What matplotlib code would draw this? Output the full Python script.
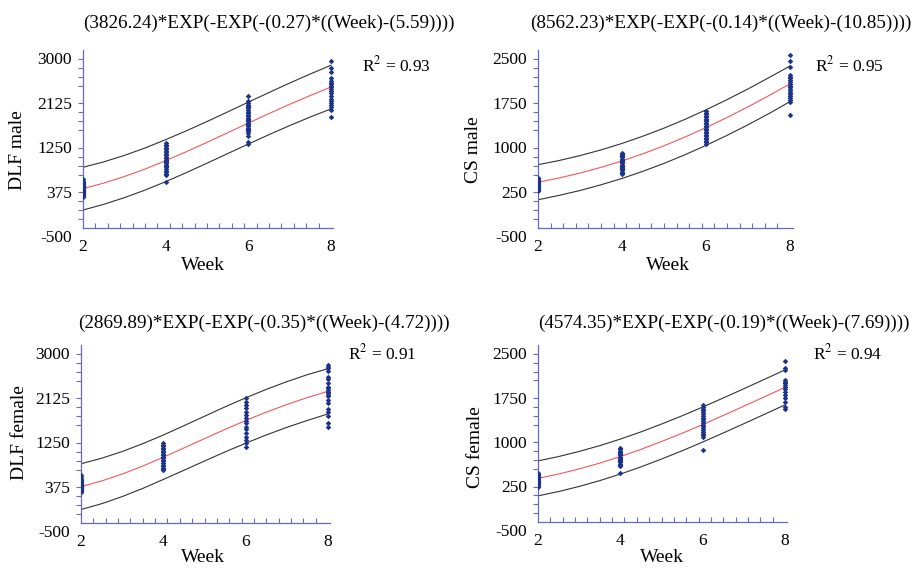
import numpy as np
import matplotlib as mpl
mpl.use('Agg')
import matplotlib.pyplot as plt
from matplotlib.transforms import ScaledTranslation

plt.rcParams['font.family'] = ['Liberation Serif', 'DejaVu Serif']
plt.rcParams['mathtext.fontset'] = 'stix'
plt.rcParams['axes.unicode_minus'] = False

# observed values, one list per week (2, 4, 6, 8)
weeks = [2, 4, 6, 8]

dlf_male = [
    [460, 430, 410, 390, 370, 350, 330, 320, 300, 290, 280, 270, 260, 250, 240, 230, 215, 200, 185, 170, 150, 130, 115],
    [1170, 1140, 1110, 1080, 1050, 1020, 990, 960, 930, 900, 870, 840, 810, 790, 770, 740, 710, 690, 660, 630, 600, 570, 540, 400],
    [2093, 1990, 1950, 1920, 1895, 1870, 1850, 1820, 1790, 1760, 1730, 1700, 1670, 1650, 1620, 1600, 1570, 1550, 1520, 1500, 1470, 1450, 1420, 1400, 1360, 1300, 1190, 1150],
    [2785, 2640, 2570, 2443, 2390, 2360, 2330, 2300, 2270, 2240, 2200, 2150, 2090, 2040, 1990, 1950, 1920, 1870, 1830, 1685],
]
cs_male = [
    [350, 335, 320, 305, 290, 280, 270, 260, 250, 240, 230, 220, 210, 200, 190, 175, 160, 145, 130],
    [770, 750, 730, 710, 690, 670, 650, 630, 610, 590, 570, 550, 530, 510, 490, 470, 450, 430, 410],
    [1470, 1445, 1420, 1395, 1370, 1345, 1320, 1295, 1270, 1245, 1220, 1195, 1170, 1145, 1120, 1095, 1070, 1045, 1020, 995, 970, 945, 920],
    [2416, 2315, 2219, 2080, 2050, 2020, 1990, 1960, 1930, 1900, 1870, 1840, 1810, 1780, 1750, 1720, 1690, 1650, 1620, 1400],
]
dlf_female = [
    [444, 400, 370, 340, 320, 300, 280, 265, 250, 235, 220, 205, 190, 175, 160, 145, 130, 115, 104],
    [1067, 1040, 1010, 980, 950, 920, 890, 860, 830, 800, 770, 740, 710, 680, 650, 620, 590, 560, 543],
    [1952, 1886, 1820, 1755, 1689, 1624, 1558, 1506, 1460, 1395, 1342, 1277, 1198, 1132, 1067, 1001],
    [2607, 2570, 2541, 2480, 2364, 2330, 2250, 2181, 2150, 2115, 2080, 2050, 2020, 1997, 1919, 1853, 1750, 1689, 1604, 1460, 1395],
]
cs_female = [
    [336, 320, 305, 290, 275, 260, 245, 230, 215, 200, 185, 170, 155, 140, 125, 110, 99],
    [749, 730, 710, 690, 670, 650, 630, 610, 590, 570, 550, 530, 510, 490, 470, 449, 336],
    [1483, 1450, 1420, 1390, 1360, 1330, 1300, 1270, 1240, 1210, 1180, 1150, 1120, 1090, 1060, 1030, 1000, 970, 946, 720],
    [2229, 2110, 2080, 1910, 1880, 1850, 1820, 1790, 1750, 1700, 1650, 1600, 1540, 1455, 1410],
]

# fitted curve and prediction bands, read every half week
curve_weeks = [2, 2.5, 3, 3.5, 4, 4.5, 5, 5.5, 6, 6.5, 7, 7.5, 8]
dlf_male_fit = [274, 382, 512, 659, 824, 1000, 1184, 1373, 1563, 1750, 1932, 2106, 2271]
dlf_male_upper = [694, 800, 927, 1073, 1237, 1411, 1594, 1783, 1975, 2164, 2350, 2529, 2700]
dlf_male_lower = [-146, -36, 97, 245, 411, 589, 774, 963, 1151, 1336, 1514, 1683, 1842]
cs_male_fit = [271, 343, 426, 522, 630, 752, 886, 1033, 1192, 1362, 1542, 1732, 1930]
cs_male_upper = [566, 637, 720, 816, 925, 1048, 1183, 1331, 1492, 1663, 1844, 2035, 2230]
cs_male_lower = [-24, 49, 132, 228, 335, 456, 589, 735, 892, 1061, 1240, 1429, 1630]
dlf_female_fit = [215, 326, 462, 620, 793, 975, 1159, 1341, 1515, 1679, 1830, 1967, 2090]
dlf_female_upper = [665, 773, 905, 1060, 1230, 1413, 1599, 1784, 1961, 2127, 2279, 2417, 2535]
dlf_female_lower = [-235, -121, 19, 180, 356, 537, 719, 898, 1069, 1231, 1381, 1517, 1645]
cs_female_fit = [240, 313, 400, 498, 609, 731, 864, 1004, 1152, 1306, 1463, 1622, 1782]
cs_female_upper = [536, 609, 696, 794, 905, 1027, 1160, 1300, 1448, 1602, 1759, 1918, 2078]
cs_female_lower = [-57, 16, 103, 201, 312, 434, 567, 707, 855, 1009, 1166, 1325, 1485]

titles = ['(3826.24)*EXP(-EXP(-(0.27)*((Week)-(5.59))))',
          '(8562.23)*EXP(-EXP(-(0.14)*((Week)-(10.85))))',
          '(2869.89)*EXP(-EXP(-(0.35)*((Week)-(4.72))))',
          '(4574.35)*EXP(-EXP(-(0.19)*((Week)-(7.69))))']
ylabels = ['DLF male', 'CS male', 'DLF female', 'CS female']
r2_values = ['0.93', '0.95', '0.91', '0.94']
yticks_dlf = [-500, 375, 1250, 2125, 3000]
yticks_cs = [-500, 250, 1000, 1750, 2500]

W, H = 913, 569
fig = plt.figure(figsize=(W / 100, H / 100), dpi=100)

spine_col = '#6868c0'
dot_col = '#1b3388'

# pixel layout: left, x=8 position, top, bottom, title pos, r2 pos, ylabel pos, xlabel pos
layout = [
    dict(l=83, r8=331, t=50, b=228, title=(83, 23), r2=(362, 65), yl=(18, 150), xl=(203, 265)),
    dict(l=538, r8=790, t=50, b=228, title=(530, 23), r2=(815, 65), yl=(473, 150), xl=(668, 265)),
    dict(l=81, r8=328, t=345, b=523, title=(78, 323), r2=(348, 353), yl=(20, 433), xl=(203, 557)),
    dict(l=538, r8=785, t=345, b=522, title=(538, 323), r2=(813, 353), yl=(475, 447), xl=(662, 558)),
]
panels = [
    (dlf_male, dlf_male_fit, dlf_male_upper, dlf_male_lower, yticks_dlf),
    (cs_male, cs_male_fit, cs_male_upper, cs_male_lower, yticks_cs),
    (dlf_female, dlf_female_fit, dlf_female_upper, dlf_female_lower, yticks_dlf),
    (cs_female, cs_female_fit, cs_female_upper, cs_female_lower, yticks_cs),
]

xmax = 8.06
for i, (obs, fit, up, lo, yt) in enumerate(panels):
    p = layout[i]
    px_per_unit = (p['r8'] - p['l']) / 6.0
    width = px_per_unit * (xmax - 2)
    ax = fig.add_axes([p['l'] / W, (H - p['b']) / H, width / W, (p['b'] - p['t']) / H])

    ax.plot(curve_weeks, up, color='#333333', lw=0.8)
    ax.plot(curve_weeks, lo, color='#333333', lw=0.8)
    ax.plot(curve_weeks, fit, color='#f05a5a', lw=0.8)
    for wk, vals in zip(weeks, obs):
        ax.scatter([wk] * len(vals), vals, marker='D', s=8, color=dot_col, lw=0, zorder=3)

    ax.set_xlim(2, xmax)
    ax.set_ylim(yt[0], yt[-1])
    for s in ['top', 'right']:
        ax.spines[s].set_visible(False)
    for s in ['left', 'bottom']:
        ax.spines[s].set_color(spine_col)
        ax.spines[s].set_linewidth(0.9)

    ax.set_xticks(weeks)
    ax.set_yticks(yt)
    ax.set_xticks(np.linspace(2, 8, 21), minor=True)
    ax.set_yticks(np.linspace(yt[0], yt[-1], 21), minor=True)
    ax.tick_params(axis='both', which='major', length=0, labelsize=12.5)
    ax.tick_params(axis='x', which='major', pad=8)
    ax.tick_params(axis='y', which='major', pad=8)
    ax.tick_params(axis='x', which='minor', direction='in', length=3.5, color=spine_col, width=0.8)
    ax.tick_params(axis='y', which='minor', direction='out', length=3.5, color=spine_col, width=0.8)
    shift = ScaledTranslation(0, -6 / 72, fig.dpi_scale_trans)
    for lab in ax.get_yticklabels():
        lab.set_transform(lab.get_transform() + shift)
    ax.patch.set_alpha(0)

    fig.text(p['title'][0] / W, 1 - p['title'][1] / H, titles[i], ha='left', va='center', fontsize=13.8)
    fig.text(p['r2'][0] / W, 1 - p['r2'][1] / H, 'R$^{2}$ = ' + r2_values[i], ha='left', va='center', fontsize=12.5)
    fig.text(p['yl'][0] / W, 1 - p['yl'][1] / H, ylabels[i], ha='center', va='center', rotation=90, fontsize=14)
    fig.text(p['xl'][0] / W, 1 - p['xl'][1] / H, 'Week', ha='center', va='center', fontsize=14)

fig.savefig('out.png', dpi=100)
